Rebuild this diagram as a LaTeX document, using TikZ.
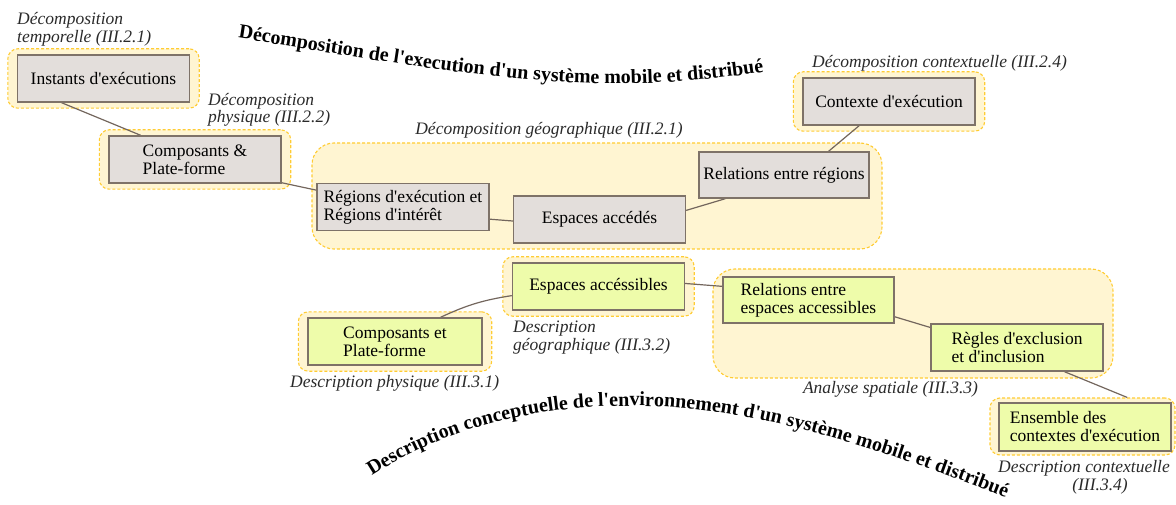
\documentclass[tikz,border=0pt]{standalone}
\usepackage{fontspec}
\newfontfamily\lserif{Liberation Serif}
\usetikzlibrary{decorations.text,fit,calc}
\definecolor{halofill}{HTML}{FFF5D2}
\definecolor{haloline}{HTML}{FFCC33}
\definecolor{boxgray}{HTML}{E3DEDB}
\definecolor{boxgreen}{HTML}{EEFCAA}
\definecolor{boxline}{HTML}{7E7268}
\definecolor{linkc}{HTML}{73665D}
\definecolor{labelc}{HTML}{2A2A2A}
\newcommand\bxfont{\lserif\fontsize{17.5}{18}\selectfont}
\newcommand\lbfont{\lserif\itshape\fontsize{17.5}{17.5}\selectfont}
\newcommand\ttlfont{\lserif\bfseries\fontsize{20}{20}\selectfont}
\pgfdeclarelayer{halo}\pgfdeclarelayer{links}\pgfsetlayers{halo,links,main}
\begin{document}
\begin{tikzpicture}[x=1pt,y=-1pt,
  gbox/.style={draw=boxline,line width=1.4pt,fill=boxgray,minimum width=172pt,minimum height=47pt,inner sep=2pt,align=left,font=\bxfont,text=black},
  ybox/.style={gbox,fill=boxgreen},
  halo/.style={draw=haloline,fill=halofill,dashed,dash pattern=on 3pt off 2pt,line width=1.1pt,rounded corners=10pt,inner sep=0pt},
  smallhalo/.style={halo,inner xsep=9pt,inner ysep=5.5pt},
  biggroup/.style={halo,rounded corners=22pt},
  lbl/.style={font=\lbfont,inner sep=0pt,align=left,text=labelc},
  link/.style={draw=linkc,line width=1.2pt}]
\useasboundingbox (0,0) rectangle (1176,505);

% boxes
\node[gbox] (inst) at (103.5,78.5) {Instants d'exécutions};
\node[gbox] (comp) at (195,159.5) {Composants \&\\Plate-forme};
\node[gbox] (regions) at (403,207) {Régions d'exécution et\\Régions d'intérêt};
\node[gbox] (accedes) at (599.5,219.5) {Espaces accédés};
\node[gbox,minimum width=170pt,minimum height=46pt] (relreg) at (784,175) {Relations entre régions};
\node[gbox] (contexte) at (889,101.5) {Contexte d'exécution};
\node[ybox] (accessibles) at (598.5,286.5) {Espaces accéssibles};
\node[ybox,minimum width=174pt] (compP) at (395,341.5) {Composants et\\Plate-forme};
\node[ybox,minimum width=171pt,minimum height=46pt] (relesp) at (808.5,300) {Relations entre\\espaces accessibles};
\node[ybox] (regles) at (1017,347.5) {Règles d'exclusion\\et d'inclusion};
\node[ybox,minimum height=48pt] (ensemble) at (1085,427) {Ensemble des\\contextes d'exécution};

% halos and groups
\begin{pgfonlayer}{halo}
\node[smallhalo,fit=(inst)] (insthalo) {};
\node[smallhalo,fit=(comp)] (comphalo) {};
\node[smallhalo,fit=(contexte)] (ctxhalo) {};
\node[smallhalo,fit=(accessibles)] (acchalo) {};
\node[smallhalo,fit=(compP)] (comphalo2) {};
\node[halo,minimum width=185pt,minimum height=57pt] (enshalo) at (1082.5,426.5) {};
\node[biggroup,minimum width=570pt,minimum height=106pt] (geo) at (597,196) {};
\node[biggroup,minimum width=400pt,minimum height=109pt] (analyse) at (913,323.5) {};
\end{pgfonlayer}

% connectors
\begin{pgfonlayer}{links}
\draw[link] (inst.210) -- (comp.156);
\draw[link] (comp.-15) -- (regions.169);
\draw[link] (regions.-8) -- (accedes.181);
\draw[link] (accedes.6) -- (relreg.202);
\draw[link] (relreg.28) -- (contexte.219);
\draw[link] (compP.28) to[bend left=8] (accessibles.186);
\draw[link] (accessibles.2) -- (relesp.171);
\draw[link] (relesp.-11) -- (regles.167);
\draw[link] (regles.-27) -- (enshalo.33);
\end{pgfonlayer}

% labels (base anchor = baseline of the last line)
\node[lbl,anchor=base west] (ltemp) at (17,42.5) {Décomposition\\temporelle (III.2.1)};
\node[lbl,anchor=base west] (lphys) at (208,123) {Décomposition\\physique (III.2.2)};
\node[lbl,anchor=base] (lgeo) at (549,135) {Décomposition géographique (III.2.1)};
\node[lbl,anchor=base west] (lctx) at (812,68) {Décomposition contextuelle (III.2.4)};
\node[lbl,anchor=base west] (lgeo2) at (513,350) {Description\\géographique (III.3.2)};
\node[lbl,anchor=base west] (lphys2) at (290,387) {Description physique (III.3.1)};
\node[lbl,anchor=base] (lana) at (890.5,393) {Analyse spatiale (III.3.3)};
\node[lbl,anchor=base,align=center] (lctx2) at (1084,490) {Description contextuelle\\\hspace*{32pt}(III.3.4)};

% curved titles
\path[decorate,decoration={text along path,text align=left,
  text={|\ttlfont|Décomposition de l'execution d'un système mobile et distribué}}]
  (238,38) .. controls (330,52) and (440,74) .. (560,82) .. controls (640,87) and (720,80) .. (790,68);
\path[decorate,decoration={text along path,text align=left,
  text={|\ttlfont|Description conceptuelle de l'environnement d'un système mobile et distribué}}]
  (372,476) .. controls (450,425) and (540,405) .. (640,406) .. controls (760,407) and (900,455) .. (1030,507);
\end{tikzpicture}
\end{document}
